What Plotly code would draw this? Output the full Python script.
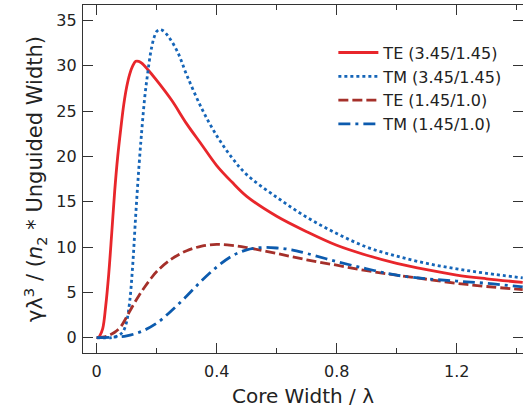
import plotly.graph_objects as go

# Core width / lambda (x) and gamma*lambda^3/(n2*unguided width) (y)
te_hi_x = [0.0, 0.005, 0.01, 0.02, 0.03, 0.04, 0.05, 0.06, 0.07, 0.08, 0.09, 0.1, 0.11, 0.12, 0.13, 0.14,
           0.15, 0.17, 0.2, 0.25, 0.3, 0.35, 0.4, 0.45, 0.5, 0.6, 0.7, 0.8, 0.9, 1.0, 1.1, 1.2, 1.3, 1.42]
te_hi_y = [0.0, 0.0, 0.2, 1.0, 3.5, 7.0, 11.5, 16.2, 20.0, 23.0, 25.7, 27.7, 29.1, 30.0, 30.5, 30.5,
           30.3, 29.6, 28.4, 26.2, 23.6, 21.3, 19.0, 17.2, 15.6, 13.4, 11.7, 10.2, 9.1, 8.2, 7.5, 6.9, 6.5, 6.1]

tm_hi_x = [0.0, 0.05, 0.07, 0.08, 0.09, 0.1, 0.11, 0.12, 0.13, 0.14, 0.15, 0.16, 0.17, 0.18, 0.19, 0.2,
           0.21, 0.22, 0.24, 0.27, 0.3, 0.35, 0.4, 0.45, 0.5, 0.6, 0.7, 0.8, 0.9, 1.0, 1.1, 1.2, 1.3, 1.42]
tm_hi_y = [0.0, 0.0, 0.2, 0.4, 0.8, 1.8, 4.0, 8.0, 13.5, 18.5, 22.8, 26.5, 29.2, 31.5, 33.0, 33.8,
           34.0, 33.9, 33.2, 31.5, 29.0, 25.3, 22.3, 19.9, 18.0, 15.5, 13.3, 11.5, 10.0, 9.0, 8.2, 7.6, 7.1, 6.6]

te_lo_x = [0.0, 0.02, 0.04, 0.06, 0.08, 0.1, 0.12, 0.14, 0.16, 0.18, 0.2, 0.25, 0.3, 0.35, 0.4, 0.45,
           0.5, 0.6, 0.7, 0.8, 0.9, 1.0, 1.1, 1.2, 1.3, 1.42]
te_lo_y = [0.0, 0.05, 0.25, 0.6, 1.2, 2.3, 3.5, 4.6, 5.6, 6.5, 7.3, 8.7, 9.6, 10.1, 10.3, 10.2,
           9.95, 9.3, 8.6, 8.0, 7.4, 6.9, 6.45, 6.0, 5.65, 5.3]

tm_lo_x = [0.0, 0.05, 0.1, 0.15, 0.2, 0.25, 0.3, 0.35, 0.4, 0.45, 0.5, 0.55, 0.6, 0.65, 0.7, 0.8,
           0.9, 1.0, 1.1, 1.2, 1.3, 1.42]
tm_lo_y = [0.0, 0.05, 0.2, 0.7, 1.6, 3.0, 4.6, 6.3, 7.8, 9.0, 9.7, 9.95, 9.9, 9.7, 9.3, 8.4,
           7.6, 6.9, 6.5, 6.25, 6.0, 5.6]

names = ["TE (3.45/1.45)", "TM (3.45/1.45)", "TE (1.45/1.0)", "TM (1.45/1.0)"]
colors = ["#e8262b", "#1565b8", "#a5302a", "#0c5bae"]
dashes = ["solid", "3px,3px", "10px,4px", "12px,5px,3px,5px"]
series = [(te_hi_x, te_hi_y), (tm_hi_x, tm_hi_y), (te_lo_x, te_lo_y), (tm_lo_x, tm_lo_y)]

FONT = "DejaVu Sans, Arial, sans-serif"

fig = go.Figure()
for (xs, ys), n, c, d in zip(series, names, colors, dashes):
    fig.add_trace(go.Scatter(x=xs, y=ys, mode="lines", name=n,
                             line=dict(color=c, width=2.8, dash=d, shape="spline", smoothing=1.0)))

axis_common = dict(showgrid=False, zeroline=False, showline=True, linecolor="#333333", linewidth=1.3,
                   ticks="inside", ticklen=10, tickwidth=1.3, tickcolor="#333333", automargin=False,
                   tickfont=dict(family=FONT, size=16, color="#222222"))

fig.update_layout(
    width=523, height=413,
    margin=dict(l=83, r=0, t=5, b=60, autoexpand=False),
    paper_bgcolor="white", plot_bgcolor="white",
    font=dict(family=FONT, color="#222222"),
    showlegend=True,
    legend=dict(x=0.569, y=0.912, xanchor="left", yanchor="top", bgcolor="rgba(0,0,0,0)",
                font=dict(family=FONT, size=16, color="#222222"), itemwidth=40, tracegroupgap=0),
    xaxis=dict(range=[-0.0457, 1.421], tick0=0, dtick=0.4, mirror="allticks",
               minor=dict(dtick=0.2, ticklen=5, ticks="inside", tickwidth=1.3, tickcolor="#333333"),
               ticklabelstandoff=4,
               title=dict(text="Core Width / λ", font=dict(family=FONT, size=20, color="#222222"), standoff=8),
               **axis_common),
    yaxis=dict(range=[-1.69, 36.72], tick0=0, dtick=5, mirror="ticks", ticklabelstandoff=2,
               title=dict(text="γλ<sup>3</sup> / (<i>n</i><sub>2</sub> * Unguided Width)",
                          font=dict(family=FONT, size=21, color="#222222"), standoff=7),
               **axis_common),
)

fig.write_html("out.html", post_script="document.body.style.margin='0';",
               config={"displayModeBar": False})
